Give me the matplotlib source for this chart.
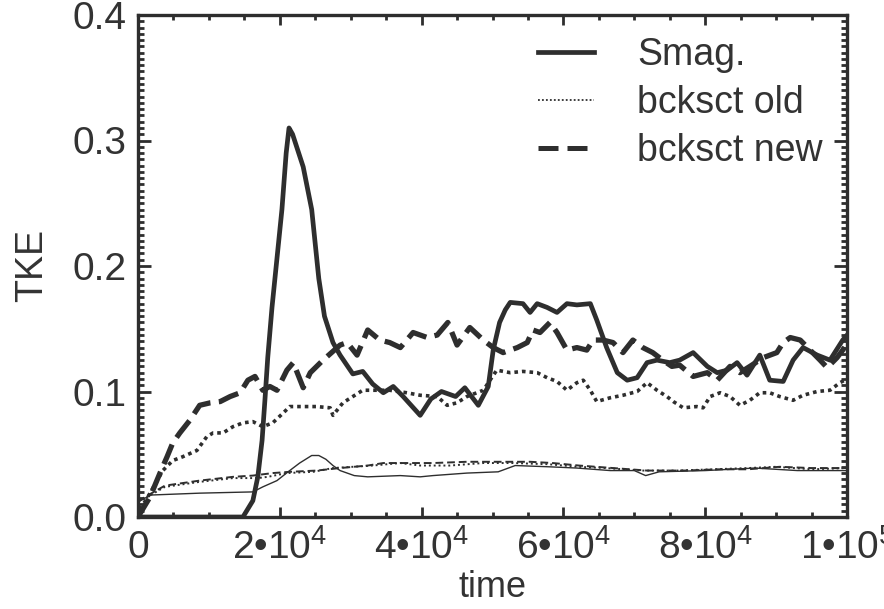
import matplotlib
matplotlib.use("Agg")
import matplotlib.pyplot as plt
import numpy as np
from matplotlib.lines import Line2D

plt.rcParams['font.family'] = ['Liberation Sans', 'DejaVu Sans']
plt.rcParams['mathtext.fontset'] = 'custom'
plt.rcParams['mathtext.rm'] = 'Liberation Sans'
plt.rcParams['mathtext.it'] = 'Liberation Sans'

# ---- data (time in units of 1e3) ----
smag_t = [0, 10, 14.8, 16.2, 16.9, 17.5, 17.9, 18.3, 18.9, 20.3, 20.9, 21.3, 21.8, 23.3, 24.5,
          25.5, 26.3, 27.5, 28.5, 30.3, 31.7, 33.1, 34.6, 36.0, 37.4, 39.8, 41.3, 42.8, 44.8,
          46.1, 48.0, 49.4, 50.1, 51.0, 51.8, 52.5, 54.3, 55.3, 56.3, 57.7, 59.1, 60.5, 61.9,
          63.8, 64.7, 66.1, 67.6, 69.0, 70.4, 71.8, 73.2, 75.0, 76.4, 78.3, 80.3, 81.7, 83.1,
          84.5, 85.9, 87.7, 89.1, 91.0, 92.4, 93.8, 95.8, 97.6, 99.4, 100]
smag_v = [0.0, 0.0, 0.0, 0.013, 0.032, 0.061, 0.093, 0.127, 0.167, 0.245, 0.29, 0.31, 0.305, 0.279, 0.245,
          0.19, 0.16, 0.139, 0.129, 0.114, 0.116, 0.106, 0.099, 0.104, 0.096, 0.081, 0.094, 0.100, 0.096,
          0.103, 0.089, 0.104, 0.133, 0.155, 0.165, 0.171, 0.170, 0.163, 0.170, 0.167, 0.163, 0.170, 0.169,
          0.170, 0.157, 0.135, 0.115, 0.109, 0.111, 0.123, 0.125, 0.123, 0.125, 0.131, 0.120, 0.115, 0.117,
          0.123, 0.113, 0.129, 0.109, 0.108, 0.125, 0.135, 0.129, 0.125, 0.141, 0.145]

new_t = [0, 1.7, 3.1, 4.1, 4.9, 5.9, 7.3, 8.7, 10.2, 11.6, 13.0, 14.4, 15.5, 16.5, 17.6, 18.6, 19.6,
         21.0, 21.9, 23.3, 24.3, 26.1, 28.5, 29.5, 30.9, 32.4, 34.1, 35.5, 37.0, 38.8, 40.8, 42.2,
         43.7, 45.0, 46.8, 48.7, 50.1, 51.5, 53.5, 54.9, 55.7, 56.7, 58.1, 59.1, 60.5, 61.9, 63.3,
         64.2, 65.6, 67.0, 68.4, 69.8, 71.2, 72.6, 74.0, 75.3, 76.4, 78.3, 80.3, 81.7, 83.5, 84.9,
         86.3, 88.2, 90.1, 91.0, 92.0, 93.4, 94.8, 96.2, 97.2, 98.6, 99.4, 100]
new_v = [0.0, 0.016, 0.035, 0.048, 0.059, 0.067, 0.077, 0.089, 0.091, 0.092, 0.096, 0.099, 0.109, 0.112, 0.101, 0.104, 0.101,
         0.117, 0.123, 0.103, 0.115, 0.125, 0.137, 0.139, 0.129, 0.149, 0.141, 0.139, 0.135, 0.147, 0.143, 0.145,
         0.155, 0.137, 0.151, 0.141, 0.135, 0.131, 0.135, 0.139, 0.149, 0.147, 0.155, 0.147, 0.133, 0.135, 0.133,
         0.141, 0.141, 0.139, 0.131, 0.141, 0.135, 0.131, 0.125, 0.120, 0.121, 0.112, 0.115, 0.109, 0.120, 0.115,
         0.120, 0.127, 0.131, 0.139, 0.143, 0.141, 0.133, 0.125, 0.119, 0.127, 0.133, 0.138]

old_t = [0.3, 1.7, 3.5, 4.9, 6.3, 8.3, 9.7, 10.6, 12.0, 13.4, 14.8, 16.2, 17.6, 19.0, 20.5, 21.4, 23.3,
         25.2, 27.1, 27.5, 28.9, 30.3, 31.7, 33.7, 35.5, 37.9, 39.8, 42.2, 43.6, 45.0, 46.4, 48.7, 50.6,
         52.5, 54.3, 56.3, 57.7, 59.1, 60.5, 61.9, 62.8, 63.8, 64.7, 66.6, 68.4, 70.4, 71.8, 73.2, 74.6,
         75.5, 76.9, 78.8, 79.7, 80.7, 82.1, 83.5, 84.9, 86.3, 87.7, 89.1, 90.5, 92.4, 93.8, 95.8, 97.6,
         99.0, 100]
old_v = [0.006, 0.019, 0.037, 0.045, 0.048, 0.053, 0.064, 0.067, 0.067, 0.072, 0.075, 0.076, 0.072, 0.075, 0.083, 0.088, 0.088,
         0.088, 0.087, 0.081, 0.091, 0.096, 0.101, 0.101, 0.101, 0.099, 0.097, 0.096, 0.089, 0.091, 0.096, 0.101, 0.117,
         0.115, 0.116, 0.115, 0.111, 0.108, 0.101, 0.107, 0.109, 0.101, 0.092, 0.095, 0.097, 0.100, 0.107, 0.101, 0.096,
         0.092, 0.087, 0.088, 0.087, 0.096, 0.099, 0.096, 0.089, 0.093, 0.099, 0.099, 0.096, 0.093, 0.097, 0.100, 0.101,
         0.107, 0.110]

smag_thin_t = [0, 1.8, 8.7, 16.2, 17.6, 19.6, 21.4, 22.8, 24.5, 25.5, 26.5, 27.5, 28.5, 30.5, 32.4, 37.0,
               39.8, 41.6, 46.4, 50.8, 53.2, 58.0, 61.9, 66.6, 70.0, 71.6, 73.5, 80.0, 87.0, 93.0, 100]
smag_thin_v = [0.012, 0.0175, 0.019, 0.020, 0.024, 0.029, 0.037, 0.043, 0.049, 0.049, 0.046, 0.041, 0.037, 0.033, 0.032, 0.033,
               0.032, 0.033, 0.035, 0.036, 0.041, 0.040, 0.039, 0.037, 0.037, 0.033, 0.036, 0.037, 0.039, 0.037, 0.037]

old_thin_t = [0, 1.0, 3.8, 8.7, 13.4, 16.9, 18.3, 21.0, 24.7, 27.5, 30.3, 33.1, 37.0, 39.8, 44.0, 48.7,
              53.0, 58.0, 62.0, 66.0, 71.0, 76.0, 81.0, 86.0, 90.0, 95.0, 100]
old_thin_v = [0.012, 0.015, 0.024, 0.028, 0.031, 0.031, 0.032, 0.035, 0.036, 0.039, 0.040, 0.041, 0.043, 0.041, 0.041, 0.043,
              0.043, 0.042, 0.040, 0.039, 0.037, 0.037, 0.038, 0.039, 0.040, 0.038, 0.039]

new_thin_t = [0, 1.0, 3.8, 8.7, 13.4, 16.2, 19.0, 21.4, 25.2, 28.5, 32.4, 34.6, 38.4, 41.6, 46.4, 50.6,
              55.3, 58.5, 62.2, 67.0, 71.8, 77.0, 82.0, 86.0, 90.5, 95.0, 100]
new_thin_v = [0.012, 0.016, 0.025, 0.029, 0.032, 0.033, 0.035, 0.036, 0.037, 0.039, 0.041, 0.043, 0.043, 0.043, 0.044, 0.044,
              0.044, 0.043, 0.041, 0.039, 0.037, 0.037, 0.038, 0.038, 0.040, 0.039, 0.039]

labels = ["Smag.", "bcksct old", "bcksct new"]
xtick_vals = [0, 20000, 40000, 60000, 80000, 100000]
xtick_labels = ["0", r"$\mathregular{2•10^4}$", r"$\mathregular{4•10^4}$",
                r"$\mathregular{6•10^4}$", r"$\mathregular{8•10^4}$", r"$\mathregular{1•10^5}$"]
ytick_vals = [0.0, 0.1, 0.2, 0.3, 0.4]

col = '#2e2e2e'
tcol = '#333333'
fig = plt.figure(figsize=(8.84, 6.09), dpi=100)
ax = fig.add_axes([138/884, 1 - 517/609, (847-138)/884, (517-15)/609])

k = 1000.0
ax.plot(np.array(smag_thin_t)*k, smag_thin_v, color=col, lw=1.0, ls='-')
ax.plot(np.array(old_thin_t)*k, old_thin_v, color=col, lw=1.4, ls=(0, (1, 1.5)))
ax.plot(np.array(new_thin_t)*k, new_thin_v, color=col, lw=1.4, ls=(0, (4, 2)))
ax.plot(np.array(old_t)*k, old_v, color=col, lw=2.6, ls=(0, (1, 1.1)))
ax.plot(np.array(new_t)*k, new_v, color=col, lw=3.8, ls=(0, (4, 1.6)))
ax.plot(np.array(smag_t)*k, smag_v, color=col, lw=3.4, ls='-', solid_capstyle='round',
        solid_joinstyle='round')

ax.set_xlim(0, 100000)
ax.set_ylim(0, 0.4)
ax.set_xticks(xtick_vals)
ax.set_xticklabels(xtick_labels)
ax.set_yticks(ytick_vals)
ax.set_yticklabels([f"{v:.1f}" for v in ytick_vals])
ax.set_xticks(np.arange(0, 100001, 5000), minor=True)
ax.set_yticks(np.arange(0, 0.4001, 0.005), minor=True)
ax.tick_params(axis='both', which='both', direction='in', top=True, right=True,
               color=col, width=2.0, labelsize=28, labelcolor=tcol)
ax.tick_params(axis='x', which='major', length=7.5, pad=9)
ax.tick_params(axis='x', which='minor', length=3.8)
ax.tick_params(axis='y', which='major', length=9.5, pad=8)
ax.tick_params(axis='y', which='minor', length=4.5)
for s in ax.spines.values():
    s.set_linewidth(2.4)
    s.set_color(col)

ax.set_xlabel("time", fontsize=26, color=tcol, labelpad=2)
ax.set_ylabel("TKE", fontsize=27, color=tcol, labelpad=16)

# legend handles
h1 = Line2D([], [], color=col, lw=3.4, ls='-')
h2 = Line2D([], [], color=col, lw=1.3, ls=(0, (1, 1.2)))
h3 = Line2D([], [], color=col, lw=3.6, ls=(0, (4, 1.8)))
leg = ax.legend([h1, h2, h3], labels, loc='upper left', bbox_to_anchor=(538/884, 1 - 37/609),
                bbox_transform=fig.transFigure, frameon=False, fontsize=27,
                handlelength=1.5, handletextpad=1.15, labelspacing=0.32, borderpad=0, borderaxespad=0)
for t in leg.get_texts():
    t.set_color(tcol)

fig.savefig("out.png", dpi=100)
